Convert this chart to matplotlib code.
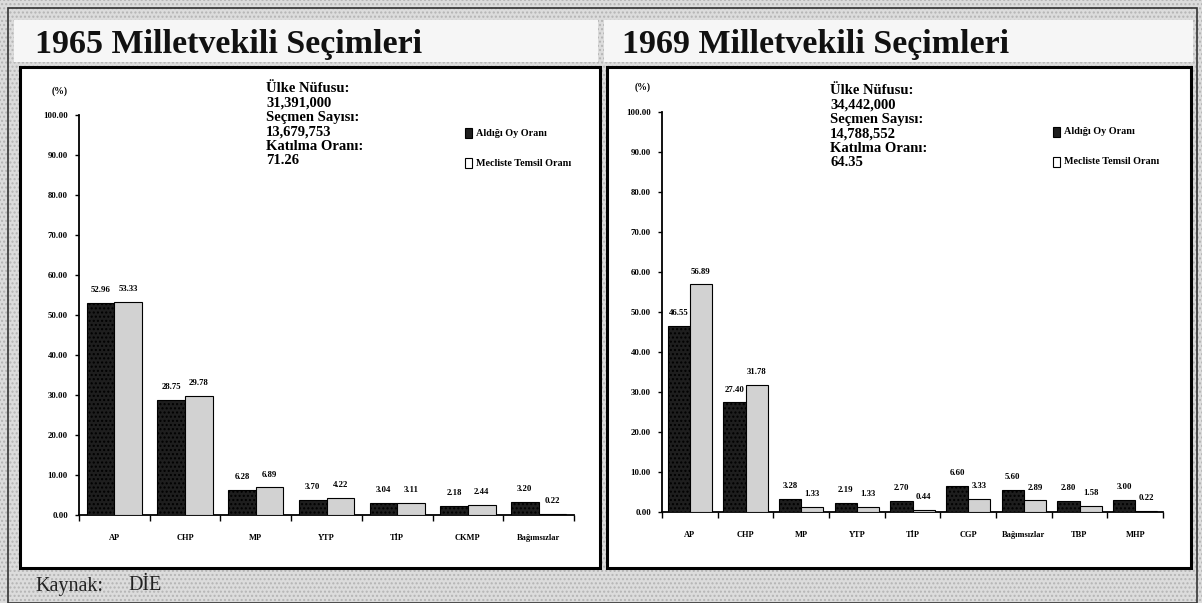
import matplotlib
matplotlib.use("Agg")
import matplotlib.pyplot as plt
import matplotlib.patches as mpatches
import numpy as np

plt.rcParams['font.family'] = ['Liberation Serif', 'DejaVu Serif']

# ---------------- data ----------------
parties_65 = ["AP", "CHP", "MP", "YTP", "TİP", "CKMP", "Bağımsızlar"]
vote_65 = [52.96, 28.75, 6.28, 3.70, 3.04, 2.18, 3.20]
seat_65 = [53.33, 29.78, 6.89, 4.22, 3.11, 2.44, 0.22]

parties_69 = ["AP", "CHP", "MP", "YTP", "TİP", "CGP", "Bağımsızlar", "TBP", "MHP"]
vote_69 = [46.55, 27.40, 3.28, 2.19, 2.70, 6.60, 5.60, 2.80, 3.00]
seat_69 = [56.89, 31.78, 1.33, 1.33, 0.44, 3.33, 2.89, 1.58, 0.22]

titles = ["1965 Milletvekili Seçimleri", "1969 Milletvekili Seçimleri"]
info_65 = ["Ülke Nüfusu:", "31,391,000", "Seçmen Sayısı:", "13,679,753",
           "Katılma Oranı:", "71.26"]
info_69 = ["Ülke Nüfusu:", "34,442,000", "Seçmen Sayısı:", "14,788,552",
           "Katılma Oranı:", "64.35"]
legend_labels = ["Aldığı Oy Oranı", "Mecliste Temsil Oranı"]
yticks = [0, 10, 20, 30, 40, 50, 60, 70, 80, 90, 100]
source_text = ["Kaynak:", "DİE"]

# ---------------- figure ----------------
W, H = 1202, 603
fig = plt.figure(figsize=(W / 100, H / 100), dpi=100)
fig.patch.set_facecolor("#d6d6d6")


def fx(px):
    return px / W


def fy(py):
    return 1 - py / H


def rect(x0, y0, x1, y1, **kw):
    r = mpatches.Rectangle((fx(x0), fy(y1)), fx(x1) - fx(x0), fy(y0) - fy(y1),
                           transform=fig.transFigure, figure=fig, **kw)
    fig.patches.append(r)
    return r


# stippled background texture
rect(0, 0, W, H, facecolor="#dcdcdc", edgecolor="#b4b4b4", hatch="....",
     linewidth=0, zorder=0)
# outer frame
rect(8, 8, 1197, 603, facecolor="none", edgecolor="#333333", linewidth=1.2, zorder=1)
# title strips
rect(14, 20, 598, 62, facecolor="#f6f6f6", edgecolor="none", zorder=1)
rect(604, 20, 1193, 62, facecolor="#f6f6f6", edgecolor="none", zorder=1)
# chart panels
rect(20, 67, 600, 568, facecolor="white", edgecolor="black", linewidth=2.2, zorder=1)
rect(607, 67, 1191, 568, facecolor="white", edgecolor="black", linewidth=2.2, zorder=1)

fig.text(fx(35), fy(44), titles[0], fontsize=24.5, fontweight="bold", va="center",
         ha="left", color="#111111")
fig.text(fx(622), fy(44), titles[1], fontsize=24.5, fontweight="bold", va="center",
         ha="left", color="#111111")

fig.text(fx(35), fy(586), source_text[0], fontsize=14.5, va="center", color="#222222")
fig.text(fx(128), fy(586), source_text[1], fontsize=14.5, va="center", color="#222222")

DARK = "#1e1e1e"
LIGHT = "#d2d2d2"


def draw(ax_box, cats, v1, v2, width):
    l, r, b, t = ax_box
    ax = fig.add_axes([fx(l), fy(b), fx(r) - fx(l), fy(t) - fy(b)])
    ax.set_zorder(3)
    ax.set_facecolor("none")
    n = len(cats)
    x = np.arange(n) + 0.5
    ax.bar(x - width / 2, v1, width, color=DARK, edgecolor="black", linewidth=0.8,
           hatch="....", zorder=3)
    ax.bar(x + width / 2, v2, width, color=LIGHT, edgecolor="black", linewidth=0.8,
           zorder=3)
    for xi, a, c in zip(x, v1, v2):
        ax.text(xi - width / 2, a + 2.2, f"{a:.2f}", ha="center", va="bottom",
                fontsize=6.3, fontweight="bold")
        ax.text(xi + width / 2, c + 2.2, f"{c:.2f}", ha="center", va="bottom",
                fontsize=6.3, fontweight="bold")
    ax.set_xlim(0, n)
    ax.set_ylim(0, 100)
    ax.set_yticks(yticks)
    ax.set_yticklabels([f"{v:.2f}" for v in yticks], fontsize=6.3, fontweight="bold")
    ax.set_xticks(np.arange(n + 1))
    ax.set_xticklabels([])
    ax.set_xticks(x, minor=True)
    ax.set_xticklabels(cats, minor=True, fontsize=6, fontweight="bold")
    ax.tick_params(axis="x", which="minor", length=0, pad=14)
    ax.tick_params(axis="x", which="major", length=4, width=1, direction="out")
    ax.tick_params(axis="y", length=3, width=1, pad=5)
    for s in ("top", "right"):
        ax.spines[s].set_visible(False)
    ax.spines["left"].set_linewidth(1.3)
    ax.spines["bottom"].set_linewidth(1.3)
    return ax


def panel(ax_box, cats, v1, v2, width, info, info_xy, leg_xy, pct_xy):
    draw(ax_box, cats, v1, v2, width)
    ix, iy = info_xy
    for k, line in enumerate(info):
        fig.text(fx(ix), fy(iy + k * 14.4), line, fontsize=10.5, fontweight="bold",
                 va="center", ha="left", zorder=5)
    lx, ly = leg_xy
    rect(lx, ly - 5, lx + 7, ly + 5, facecolor=DARK, edgecolor="black",
         linewidth=0.8, zorder=5)
    rect(lx, ly + 25, lx + 7, ly + 35, facecolor="white", edgecolor="black",
         linewidth=0.8, zorder=5)
    fig.text(fx(lx + 11), fy(ly), legend_labels[0], fontsize=7.3, fontweight="bold",
             va="center", ha="left", zorder=5)
    fig.text(fx(lx + 11), fy(ly + 30), legend_labels[1], fontsize=7.3,
             fontweight="bold", va="center", ha="left", zorder=5)
    px, py = pct_xy
    fig.text(fx(px), fy(py), "(%)", fontsize=7, fontweight="bold", va="center",
             ha="center", zorder=5)


panel((79, 574, 515, 115), parties_65, vote_65, seat_65, 0.39, info_65,
      (266, 89), (465, 133), (60, 91))
panel((662, 1163, 512, 112), parties_69, vote_69, seat_69, 0.4, info_69,
      (830, 91), (1053, 132), (643, 87))

fig.savefig("out.png", dpi=100, facecolor=fig.get_facecolor())
